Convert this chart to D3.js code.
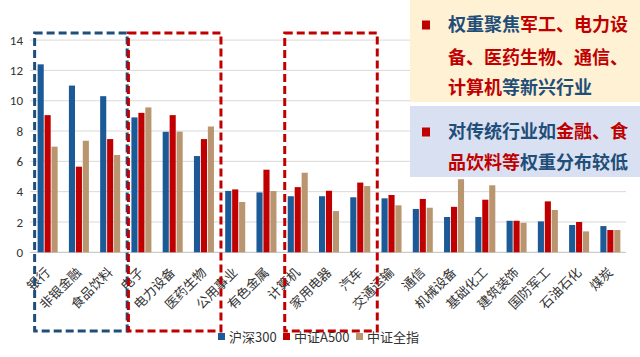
<!DOCTYPE html>
<html><head><meta charset="utf-8">
<script src="https://cdn.jsdelivr.net/npm/d3@7/dist/d3.min.js"></script>
<style>body{margin:0;background:#fff;} svg{display:block;font-family:"Noto Sans CJK SC","Microsoft YaHei",sans-serif;}</style>
</head><body><svg id="c" width="640" height="357"></svg>
<script>
const categories = ["银行","非银金融","食品饮料","电子","电力设备","医药生物","公用事业","有色金属","计算机","家用电器","汽车","交通运输","通信","机械设备","基础化工","建筑装饰","国防军工","石油石化","煤炭"];
const seriesNames = ["沪深300","中证A500","中证全指"];
const hs300 = [12.4,11.0,10.3,8.9,7.95,6.35,4.05,3.95,3.7,3.7,3.63,3.56,2.86,2.33,2.33,2.08,2.04,1.8,1.73];
const a500 = [9.05,5.65,7.47,9.2,9.05,7.47,4.15,5.45,4.3,4.06,4.6,3.78,3.52,3.0,3.47,2.08,3.36,2.0,1.47];
const allIdx = [6.97,7.36,6.42,9.56,7.96,8.3,3.32,4.04,5.25,2.72,4.37,3.1,2.94,4.82,4.42,1.95,2.79,1.38,1.47];
const yTicks = [0,2,4,6,8,10,12,14];
const colors = ["#1B5A96","#C00000","#B9966F"];

const svg = d3.select("#c");
const x = d3.scaleBand().domain(categories).range([32,626]).paddingInner(0.36).paddingOuter(0.18);
const x1 = d3.scaleBand().domain(seriesNames).range([0,x.bandwidth()]).paddingInner(0.12);
const y = d3.scaleLinear().domain([0,14]).range([252.3,40.1]);
const data = [hs300,a500,allIdx];

// gridlines
svg.append("g").selectAll("line").data(yTicks).join("line")
  .attr("x1",30).attr("x2",626).attr("y1",d=>y(d)).attr("y2",d=>y(d))
  .attr("stroke",d=>d===0?"#BFBFBF":"#D9D9D9").attr("stroke-width",1);
// y labels
svg.append("g").selectAll("text").data(yTicks).join("text")
  .attr("x",23).attr("y",d=>y(d)).attr("dy","0.35em").attr("text-anchor","end")
  .attr("font-size",13).attr("fill","#333").attr("font-family","Calibri,Carlito,'Liberation Sans',sans-serif").text(d=>d);

// bars
seriesNames.forEach((s,si)=>{
  svg.append("g").selectAll("rect").data(categories).join("rect")
    .attr("x",c=>x(c)+x1(s)).attr("width",x1.bandwidth())
    .attr("y",(c,i)=>y(data[si][i])).attr("height",(c,i)=>y(0)-y(data[si][i]))
    .attr("fill",colors[si]);
});

// x labels
svg.append("g").selectAll("text").data(categories).join("text")
  .attr("transform",c=>`translate(${x(c)+x.bandwidth()/2},${270}) rotate(-45)`)
  .attr("text-anchor","end").attr("dy","0.35em").attr("font-size",13).attr("fill","#333").text(c=>c);

// dashed boxes
const boxes = [
  {a:"银行",b:"食品饮料",col:"#1F4E79"},
  {a:"电子",b:"医药生物",col:"#C00000"},
  {a:"计算机",b:"汽车",col:"#C00000"}
];
boxes.forEach(bx=>{
  const x0 = x(bx.a)-3, x2 = x(bx.b)+x.bandwidth()+7;
  svg.append("rect").attr("x",x0).attr("y",33).attr("width",x2-x0).attr("height",298)
    .attr("fill","none").attr("stroke",bx.col).attr("stroke-width",3).attr("stroke-dasharray","8,4");
});

// legend
const lg = svg.append("g");
const legX = [218,283,356];
seriesNames.forEach((s,i)=>{
  lg.append("rect").attr("x",legX[i]).attr("y",333).attr("width",7).attr("height",7).attr("fill",colors[i]);
  lg.append("text").attr("x",legX[i]+11).attr("y",337).attr("dy","0.35em").attr("font-size",13).attr("fill","#333").text(s);
});

// annotation boxes
const blue="#1F4E79", red="#C00000";
svg.append("rect").attr("x",410).attr("y",0).attr("width",230).attr("height",102).attr("fill","#FEF1D4");
svg.append("rect").attr("x",410).attr("y",106).attr("width",230).attr("height",71).attr("fill","#D9E0F1");
const lines = [
  {y:25, parts:[["权重聚焦",blue],["军工、电力设",red]]},
  {y:58, parts:[["备、医药生物、通信、",red]]},
  {y:88, parts:[["计算机",red],["等新兴行业",blue]]},
  {y:132, parts:[["对传统行业如",blue],["金融、食",red]]},
  {y:163, parts:[["品饮料等",red],["权重分布较低",blue]]}
];
lines.forEach(l=>{
  const t = svg.append("text").attr("x",448).attr("y",l.y).attr("dy","0.36em").attr("font-size",18).attr("font-weight","bold");
  l.parts.forEach(p=>t.append("tspan").attr("fill",p[1]).text(p[0]));
});
[25,132].forEach(by=>svg.append("rect").attr("x",422).attr("y",by-4.5).attr("width",8).attr("height",9).attr("fill",red));
</script></body></html>
